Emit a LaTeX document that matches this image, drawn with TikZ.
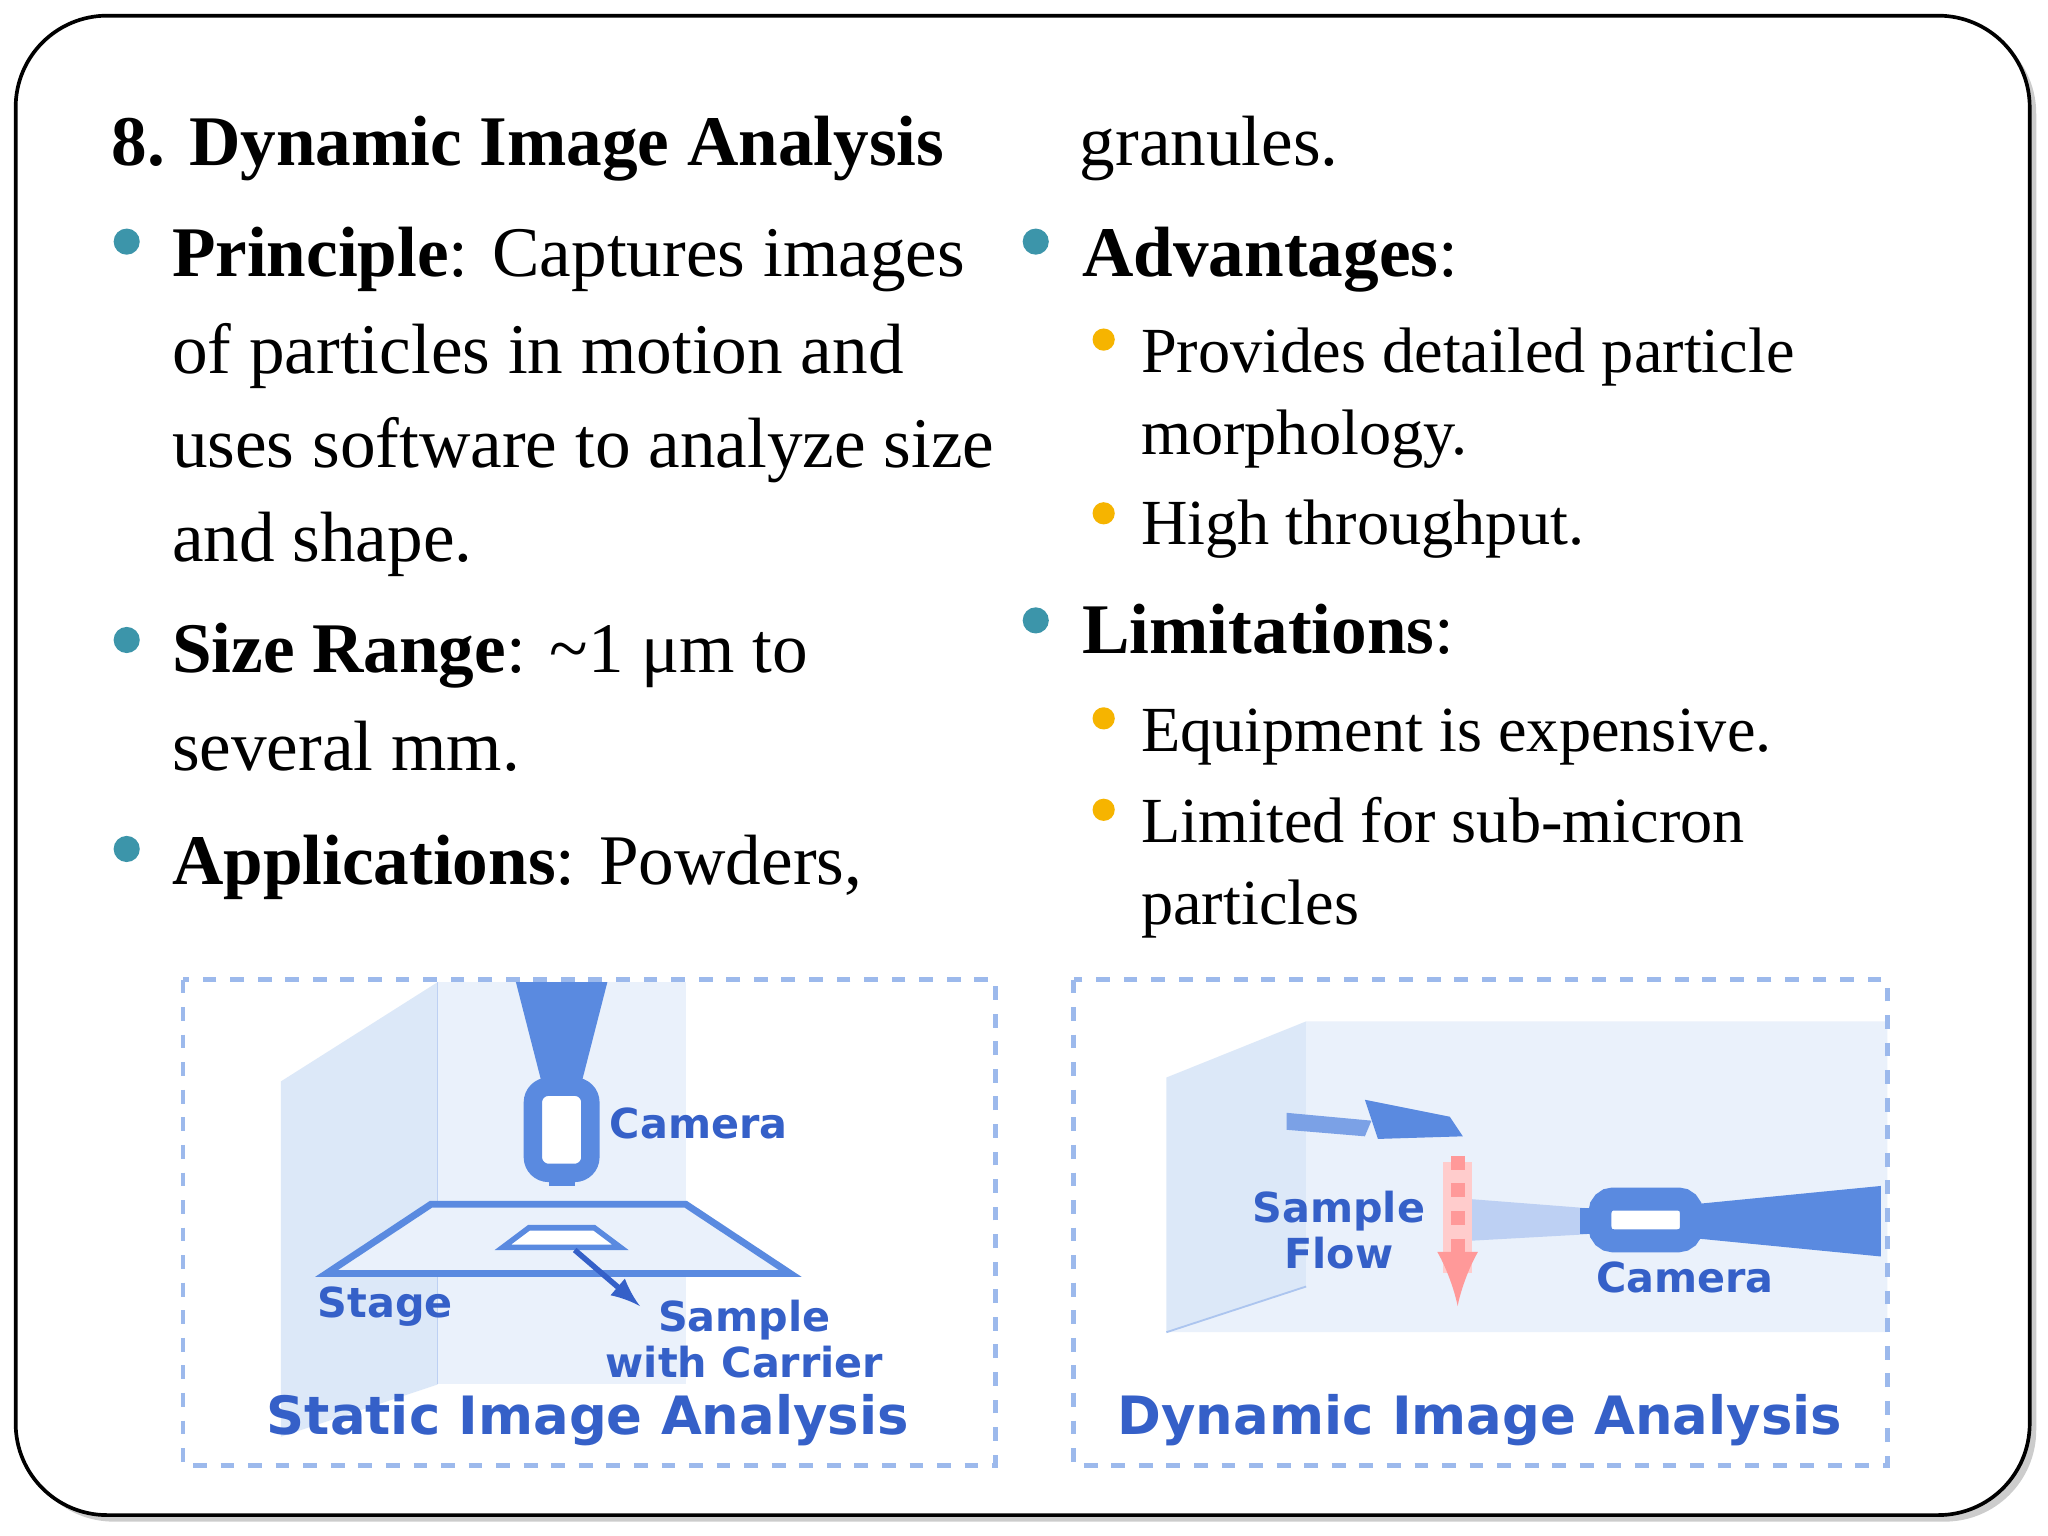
\documentclass[tikz,border=0pt]{standalone}
\usepackage{fontspec}
\setmainfont{Liberation Serif}
\newfontfamily\figf{DejaVu Sans}
\usetikzlibrary{shadows}
\definecolor{teal1}{HTML}{3C95AA}
\definecolor{orng}{HTML}{F6B400}
\definecolor{fblue}{HTML}{3560C8}
\definecolor{pale}{HTML}{DCE8F8}
\definecolor{pale2}{HTML}{EAF1FB}
\definecolor{mid}{HTML}{5A8AE0}
\begin{document}
\begin{tikzpicture}[x=0.01cm,y=-0.01cm,
  ln/.style={anchor=base west,inner sep=0,font=\fontsize{15.5pt}{18pt}\selectfont},
  sl/.style={anchor=base west,inner sep=0,font=\fontsize{14pt}{17pt}\selectfont},
  bd/.style={circle,fill=teal1,inner sep=0,minimum size=0.2cm},
  od/.style={circle,fill=orng,inner sep=0,minimum size=0.17cm},
  fl/.style={font=\figf\bfseries\fontsize{9pt}{10pt}\selectfont,text=fblue,align=center,inner sep=0},
  ft/.style={font=\figf\bfseries\fontsize{11.5pt}{13pt}\selectfont,text=fblue,inner sep=0},
  fbox/.style={draw=mid!60,dashed,line width=1pt}]
\useasboundingbox (0,0) rectangle (1568,1176);
\draw[fill=white,line width=0.8pt,rounded corners=0.7cm,drop shadow={shadow xshift=0.05cm,shadow yshift=-0.05cm,opacity=0.4}] (12,12) rectangle (1554,1160);
% left column
\node[ln,font=\bfseries\fontsize{15.5pt}{18pt}\selectfont] (t) at (85,127) {8. Dynamic Image Analysis};
\node[bd] (b1) at (97,185) {};
\node[ln] (l1) at (131,212) {\textbf{Principle}: Captures images};
\node[ln] (l2) at (131,286) {of particles in motion and};
\node[ln] (l3) at (131,358) {uses software to analyze size};
\node[ln] (l4) at (131,430) {and shape.};
\node[bd] (b2) at (97,490) {};
\node[ln] (l5) at (131,515) {\textbf{Size Range}: \textasciitilde1 μm to};
\node[ln] (l6) at (131,590) {several mm.};
\node[bd] (b3) at (97,650) {};
\node[ln] (l7) at (131,677) {\textbf{Applications}: Powders,};
% right column
\node[ln] (r0) at (826,127) {granules.};
\node[bd] (b4) at (793,185) {};
\node[ln] (r1) at (828,212) {\textbf{Advantages}:};
\node[od] (o1) at (845,260) {};
\node[sl] (r2) at (873,285) {Provides detailed particle};
\node[sl] (r3) at (873,348) {morphology.};
\node[od] (o2) at (845,393) {};
\node[sl] (r4) at (873,417) {High throughput.};
\node[bd] (b5) at (793,475) {};
\node[ln] (r5) at (828,500) {\textbf{Limitations}:};
\node[od] (o3) at (845,550) {};
\node[sl] (r6) at (873,575) {Equipment is expensive.};
\node[od] (o4) at (845,620) {};
\node[sl] (r7) at (873,645) {Limited for sub-micron};
\node[sl] (r8) at (873,708) {particles};
% left figure
\fill[pale] (215,828) -- (335,752) -- (335,1060) -- (215,1100) -- cycle;
\fill[pale2] (335,752) rectangle (525,1060);
\draw[mid!40] (335,752) -- (335,1060);
\fill[mid] (395,752) -- (465,752) -- (445,830) -- (415,830) -- cycle;
\draw[mid,line width=4pt,fill=white,rounded corners=0.12cm] (408,832) rectangle (452,898);
\fill[mid] (420,898) rectangle (440,908);
\draw[mid,line width=1.5pt,fill=pale2] (250,975) -- (605,975) -- (525,922) -- (330,922) -- cycle;
\draw[mid,line width=1.2pt,fill=white] (385,955) -- (475,955) -- (455,940) -- (405,940) -- cycle;
\node[fl] (cam1) at (535,860) {Camera};
\node[fl] (stg) at (295,1000) {Stage};
\node[fl] (smp) at (570,1025) {Sample\\with Carrier};
\coordinate (ar1) at (440,957);
\draw[fblue,line width=1.2pt,-latex] (ar1) -- (490,1000);
\node[ft] (st) at (450,1087) {Static Image Analysis};
\draw[fbox] (140,750) rectangle (762,1122);
% right figure
\fill[pale] (893,825) -- (1000,782) -- (1000,985) -- (893,1020) -- cycle;
\fill[pale2] (1000,782) -- (1445,782) -- (1445,1020) -- (893,1020) -- (1000,985) -- cycle;
\draw[mid!50] (893,1020) -- (1000,985);
\fill[mid!80] (985,852) -- (1050,858) -- (1045,870) -- (985,865) -- cycle;
\fill[mid] (1045,842) -- (1110,855) -- (1120,870) -- (1055,872) -- cycle;
\fill[mid!40] (1125,918) -- (1215,925) -- (1215,945) -- (1125,950) -- cycle;
\fill[red!20] (1105,890) rectangle (1127,975);
\draw[red!40,dashed,line width=3pt,-latex] (1116,885) -- (1116,1000);
\draw[mid,line width=5pt,fill=white,rounded corners=0.1cm] (1225,918) rectangle (1295,950);
\fill[mid] (1210,925) rectangle (1225,945);
\fill[mid] (1297,922) -- (1440,908) -- (1440,962) -- (1297,948) -- cycle;
\node[fl] (sf) at (1025,942) {Sample\\Flow};
\node[fl] (cam2) at (1290,978) {Camera};
\node[ft] (dt) at (1133,1087) {Dynamic Image Analysis};
\draw[fbox] (822,750) rectangle (1445,1122);
\end{tikzpicture}
\end{document}
